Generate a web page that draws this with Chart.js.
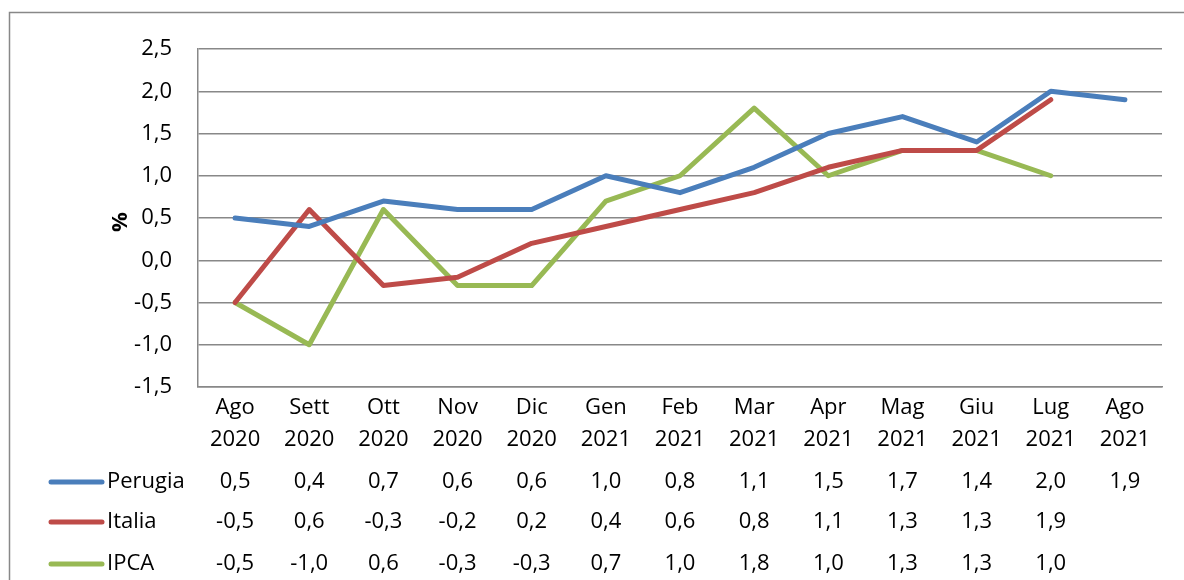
<!DOCTYPE html>
<html><head><meta charset="utf-8">
<script src="https://cdn.jsdelivr.net/npm/chart.js@4"></script>
<style>html,body{margin:0;padding:0;background:#fff}#wrap{width:1184px;height:580px}</style>
</head><body><div id="wrap"><canvas id="c" width="1184" height="580"></canvas></div>
<script>
const months = ["Ago","Sett","Ott","Nov","Dic","Gen","Feb","Mar","Apr","Mag","Giu","Lug","Ago"];
const years = ["2020","2020","2020","2020","2020","2021","2021","2021","2021","2021","2021","2021","2021"];
const perugia = [0.5,0.4,0.7,0.6,0.6,1.0,0.8,1.1,1.5,1.7,1.4,2.0,1.9];
const italia = [-0.5,0.6,-0.3,-0.2,0.2,0.4,0.6,0.8,1.1,1.3,1.3,1.9,null];
const ipca = [-0.5,-1.0,0.6,-0.3,-0.3,0.7,1.0,1.8,1.0,1.3,1.3,1.0,null];
const seriesNames = ["Perugia","Italia","IPCA"];
const colors = ["#4A7EBB","#BE4B48","#98B954"];
const yMin = -1.5, yMax = 2.5, yStep = 0.5;

const FONT = "'Open Sans', sans-serif";
const FS = 22;
const fmt = v => v.toFixed(1).replace('.', ',');
const seriesData = [perugia, italia, ipca];

const tablePlugin = {
  id: 'tbl',
  beforeDraw(chart) {
    const c = chart.ctx;
    c.save();
    c.strokeStyle = '#888888'; c.lineWidth = 1.5;
    c.strokeRect(9.5, 12.5, 1300, 700);
    c.restore();
  },
  afterDraw(chart) {
    const c = chart.ctx, xs = chart.scales.x, ys = chart.scales.y;
    c.save();
    c.translate(121, (ys.top + ys.bottom) / 2 + 4);
    c.rotate(-Math.PI / 2);
    c.font = "bold " + FS + "px " + FONT; c.fillStyle = '#000';
    c.textAlign = 'center'; c.textBaseline = 'middle';
    c.fillText('%', 0, 0);
    c.restore();
    c.save();
    c.font = FS + "px " + FONT; c.fillStyle = '#000'; c.textBaseline = 'middle';
    const rowY = [482, 522, 564];
    seriesData.forEach((arr, r) => {
      const y = rowY[r];
      c.strokeStyle = colors[r]; c.lineWidth = 5; c.lineCap = 'round';
      c.beginPath(); c.moveTo(51, y); c.lineTo(102, y); c.stroke();
      c.textAlign = 'left'; c.fillStyle = '#000';
      c.fillText(seriesNames[r], 107, y);
      c.textAlign = 'center';
      arr.forEach((v, i) => {
        if (v === null) return;
        c.fillText(fmt(v), xs.getPixelForValue(i), y);
      });
    });
    c.restore();
  }
};

new Chart(document.getElementById('c'), {
  type: 'line',
  data: {
    labels: months.map((m, i) => [m, years[i]]),
    datasets: seriesData.map((d, i) => ({
      label: seriesNames[i], data: d, borderColor: colors[i], backgroundColor: colors[i],
      borderWidth: 5, pointRadius: 0, tension: 0, borderCapStyle: 'round', borderJoinStyle: 'round', spanGaps: false
    }))
  },
  options: {
    responsive: false, animation: false, devicePixelRatio: 1,
    layout: { padding: { left: 0, right: 22, top: 49, bottom: 0 } },
    plugins: { legend: { display: false }, tooltip: { enabled: false } },
    scales: {
      x: {
        offset: true,
        grid: { display: false, drawTicks: false, offset: true },
        border: { display: true, color: '#888888', width: 1.5 },
        ticks: { color: '#000', font: { size: FS, family: FONT, lineHeight: 1.45 }, padding: 5, maxRotation: 0, autoSkip: false },
        afterFit(s) { s.height = 193; }
      },
      y: {
        min: yMin, max: yMax,
        grid: { color: '#888888', lineWidth: 1.5, drawTicks: false },
        border: { display: true, color: '#888888', width: 1.5 },
        ticks: { stepSize: yStep, color: '#000', font: { size: FS, family: FONT }, padding: 26, callback: v => fmt(v) },
        afterFit(s) { s.width = 198; }
      }
    }
  },
  plugins: [tablePlugin]
});
</script></body></html>
